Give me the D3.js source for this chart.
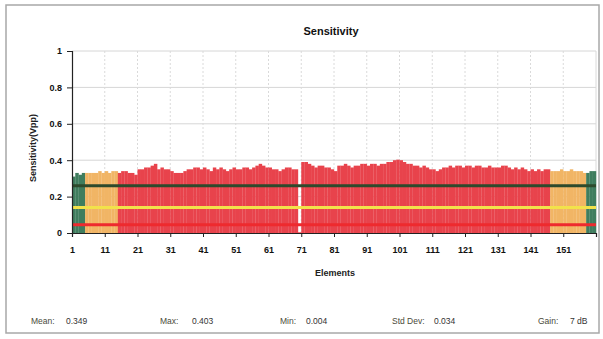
<!DOCTYPE html>
<html>
<head>
<meta charset="utf-8">
<script src="https://cdn.jsdelivr.net/npm/d3@7"></script>
<style>
  html, body { margin: 0; padding: 0; background: #fff; }
  svg { display: block; font-family: "Liberation Sans Narrow", "Liberation Sans", Arial, sans-serif; }
</style>
</head>
<body>
<svg id="chart" width="603" height="339"></svg>
<script>
// sensitivity per element (1..160)
const sensitivity = [
  0.31, 0.33, 0.32, 0.33, 0.33, 0.33, 0.33, 0.33, 0.34, 0.33,
  0.34, 0.33, 0.34, 0.34, 0.33, 0.34, 0.34, 0.33, 0.33, 0.32,
  0.35, 0.35, 0.36, 0.36, 0.37, 0.38, 0.35, 0.36, 0.35, 0.35,
  0.34, 0.33, 0.33, 0.33, 0.34, 0.35, 0.35, 0.36, 0.36, 0.35,
  0.36, 0.35, 0.34, 0.36, 0.35, 0.36, 0.35, 0.34, 0.35, 0.36,
  0.35, 0.35, 0.36, 0.36, 0.35, 0.36, 0.37, 0.38, 0.37, 0.36,
  0.36, 0.35, 0.35, 0.34, 0.35, 0.36, 0.36, 0.35, 0.35, 0.004,
  0.39, 0.39, 0.38, 0.37, 0.36, 0.37, 0.37, 0.36, 0.36, 0.35,
  0.34, 0.37, 0.37, 0.38, 0.37, 0.36, 0.37, 0.37, 0.38, 0.38,
  0.37, 0.38, 0.38, 0.37, 0.38, 0.38, 0.39, 0.39, 0.40, 0.403,
  0.40, 0.39, 0.38, 0.38, 0.37, 0.37, 0.36, 0.37, 0.36, 0.35,
  0.35, 0.34, 0.35, 0.36, 0.36, 0.37, 0.36, 0.37, 0.37, 0.36,
  0.37, 0.37, 0.36, 0.37, 0.37, 0.36, 0.36, 0.37, 0.36, 0.36,
  0.36, 0.37, 0.37, 0.36, 0.35, 0.36, 0.35, 0.36, 0.35, 0.34,
  0.35, 0.34, 0.35, 0.34, 0.35, 0.35, 0.34, 0.34, 0.34, 0.35,
  0.34, 0.34, 0.35, 0.34, 0.34, 0.34, 0.33, 0.33, 0.34, 0.34
];

// element zones: last element of each zone and its kind
const zoneEnds = [4, 14, 146, 157, 160];
const zoneKinds = ["edge", "outer", "inner", "outer", "edge"];

// horizontal reference levels
const levelValues = [0.26, 0.14, 0.045];
const levelKinds = ["upper", "middle", "lower"];

const yTicks = [0, 0.2, 0.4, 0.6, 0.8, 1];
const xTicks = [1, 11, 21, 31, 41, 51, 61, 71, 81, 91, 101, 111, 121, 131, 141, 151];

const statLabels = ["Mean:", "Max:", "Min:", "Std Dev:", "Gain:"];
const statValues = ["0.349", "0.403", "0.004", "0.034", "7 dB"];

const zoneColor = d3.scaleOrdinal()
  .domain(["edge", "outer", "inner"])
  .range(["#3f7d5e", "#f1b565", "#e8434c"]);
const levelColor = d3.scaleOrdinal()
  .domain(["upper", "middle", "lower"])
  .range(["#2d4a2c", "#f2e24a", "#ee2a2e"]);

const svg = d3.select("#chart");

// frame
svg.append("rect")
  .attr("x", 6).attr("y", 5)
  .attr("width", 593).attr("height", 328)
  .attr("fill", "#fff")
  .attr("stroke", "#a8a8a8")
  .attr("stroke-width", 1.5);

const x = d3.scaleLinear().domain([1, 161]).range([72, 596]);
const y = d3.scaleLinear().domain([0, 1]).range([233, 51]);

function kindOf(el) {
  const i = zoneEnds.findIndex(e => el <= e);
  return zoneKinds[i];
}

// grid
svg.append("g")
  .selectAll("line")
  .data(yTicks.filter(d => d > 0))
  .enter()
  .append("line")
  .attr("x1", x(1)).attr("x2", x(161))
  .attr("y1", d => y(d)).attr("y2", d => y(d))
  .attr("stroke", "#d6d6d6");

svg.append("g")
  .selectAll("line")
  .data(xTicks.slice(1).concat([161]))
  .enter()
  .append("line")
  .attr("x1", d => x(d)).attr("x2", d => x(d))
  .attr("y1", y(1)).attr("y2", y(0))
  .attr("stroke", "#dadada")
  .attr("stroke-dasharray", d => d === 161 ? null : "2,2");

// bars
const data = sensitivity.map((v, i) => ({ el: i + 1, v: v }));
svg.append("g")
  .selectAll("rect")
  .data(data)
  .enter()
  .append("rect")
  .attr("x", d => x(d.el))
  .attr("y", d => y(d.v))
  .attr("width", x(2) - x(1) + 0.2)
  .attr("height", d => y(0) - y(d.v))
  .attr("fill", d => zoneColor(kindOf(d.el)));

// reference levels
svg.append("g")
  .selectAll("line")
  .data(levelValues)
  .enter()
  .append("line")
  .attr("x1", x(1)).attr("x2", x(161))
  .attr("y1", d => y(d)).attr("y2", d => y(d))
  .attr("stroke", (d, i) => levelColor(levelKinds[i]))
  .attr("stroke-width", 3);

// axes
const yAxis = svg.append("g")
  .attr("transform", "translate(" + x(1) + ",0)")
  .call(d3.axisLeft(y).tickValues(yTicks).tickFormat(d3.format("")).tickSize(5).tickPadding(5));
const xAxis = svg.append("g")
  .attr("transform", "translate(0," + y(0) + ")")
  .call(d3.axisBottom(x).tickValues(xTicks.concat([161])).tickFormat(d => d === 161 ? "" : d).tickSize(4).tickPadding(10));

[yAxis, xAxis].forEach(a => {
  a.select(".domain").attr("stroke", "#222").attr("stroke-width", 1.2);
  a.selectAll(".tick line").attr("stroke", "#222");
  a.selectAll("text")
    .attr("fill", "#111")
    .style("font-size", "9px")
    .style("font-weight", "bold");
});

// titles
svg.append("text")
  .attr("x", 331).attr("y", 35)
  .attr("text-anchor", "middle")
  .style("font-size", "11px")
  .style("font-weight", "bold")
  .attr("fill", "#111")
  .text("Sensitivity");

svg.append("text")
  .attr("x", 335).attr("y", 276)
  .attr("text-anchor", "middle")
  .style("font-size", "9px")
  .style("font-weight", "bold")
  .attr("fill", "#222")
  .text("Elements");

svg.append("text")
  .attr("transform", "translate(36,148) rotate(-90)")
  .attr("text-anchor", "middle")
  .style("font-size", "9px")
  .style("font-weight", "bold")
  .attr("fill", "#222")
  .text("Sensitivity(Vpp)");

// stats row
const statLabelX = [31, 160, 280, 392, 538];
const statValueX = [66, 192, 306, 434, 570];
const stats = svg.append("g").style("font-size", "8.5px");
statLabels.forEach((s, i) => {
  stats.append("text")
    .attr("x", statLabelX[i]).attr("y", 324)
    .attr("fill", "#4a4a3a")
    .text(s);
  stats.append("text")
    .attr("x", statValueX[i]).attr("y", 324)
    .attr("fill", "#333")
    .text(statValues[i]);
});
</script>
</body>
</html>
